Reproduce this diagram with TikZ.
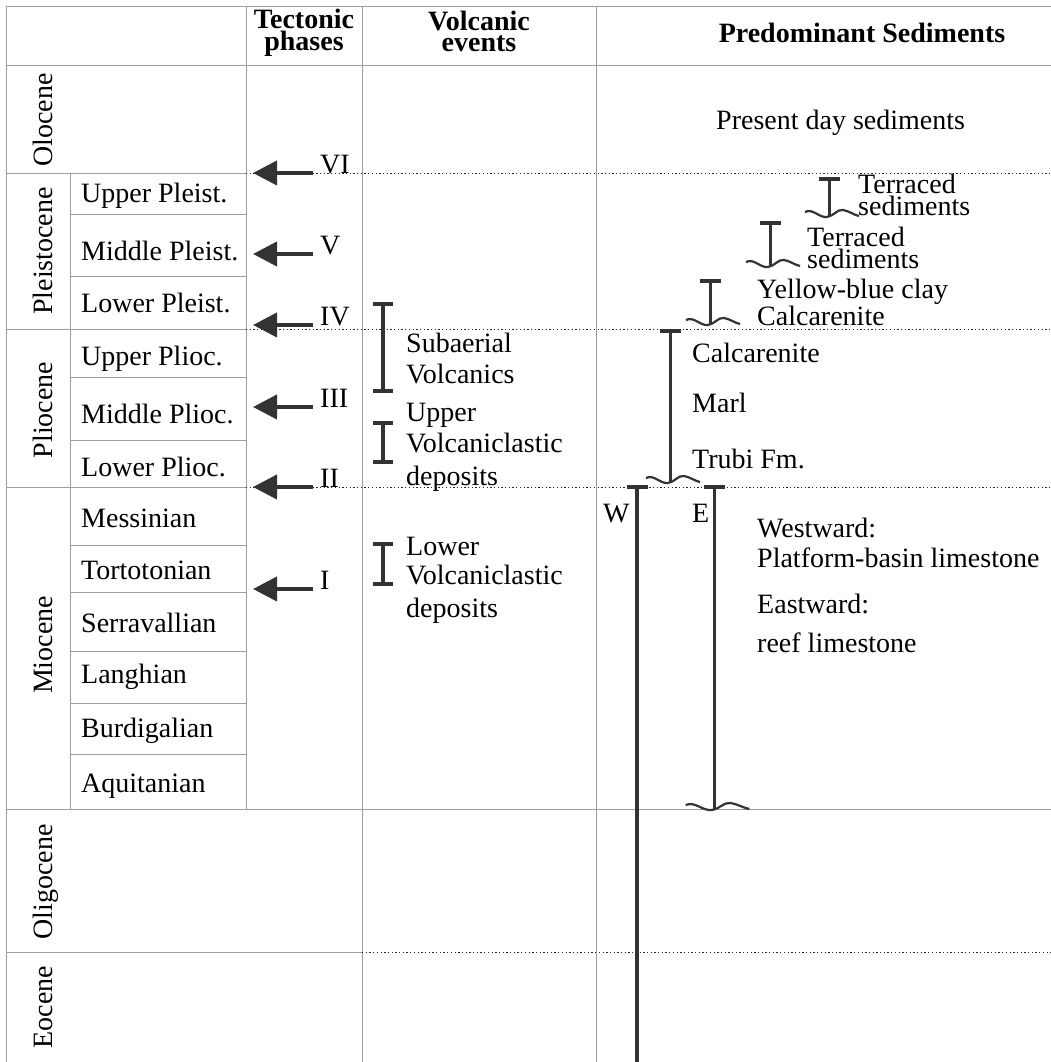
\documentclass[tikz,border=0pt]{standalone}
\usepackage{fontspec}
\setmainfont{Liberation Serif}
\usetikzlibrary{arrows.meta}
\begin{document}
\begin{tikzpicture}[x=1pt,y=-1pt,
  gridl/.style={draw=black!38,line width=0.9pt},
  dots/.style={draw=black!85,line width=1pt,dash pattern=on 1.3pt off 2.4pt},
  txt/.style={font=\fontsize{28}{30}\selectfont,inner sep=0pt,anchor=base west,text height=18pt,text depth=4pt},
  two/.style={font=\fontsize{28}{#1}\selectfont,inner sep=0pt,anchor=base west,align=left},
  head/.style={font=\bfseries\fontsize{28}{#1}\selectfont,inner sep=0pt,anchor=base,align=center},
  epoch/.style={font=\fontsize{28}{30}\selectfont,rotate=90,inner sep=0pt,anchor=base},
  tarrow/.style={draw=black!80,line width=4pt,-{Triangle[length=24pt,width=24pt]}},
  barl/.style={draw=black!80,line width=3.5pt},
  wline/.style={draw=black!80,line width=2.2pt},
  sedwave/.pic={\draw[wline] (-24,-5) .. controls (-16,-9) and (-10,1) .. (-2,0) .. controls (5,-1) and (8,-8) .. (14,-7) .. controls (20,-6) and (25,-2) .. (30,-1);}
]
\useasboundingbox (0,0) rectangle (1051,1062);
\fill[white] (0,0) rectangle (1051,1062);

% ---------- grid ----------
\draw[gridl] (6,6) -- (1051,6);
\draw[gridl] (6,65) -- (1051,65);
\draw[gridl] (6,6) -- (6,1062);
\draw[gridl] (246,6) -- (246,809);
\draw[gridl] (362,6) -- (362,1062);
\draw[gridl] (596,6) -- (596,1062);
\draw[gridl] (70,173) -- (70,809);
\foreach \y in {173,329,487} {\draw[gridl] (6,\y) -- (246,\y);}
\foreach \y in {214,276,377,440,545,592,651,703,754} {\draw[gridl] (70,\y) -- (246,\y);}
\draw[gridl] (6,809) -- (1051,809);
\draw[gridl] (6,952) -- (362,952);
\foreach \y in {173,329,487} {\draw[dots] (246,\y) -- (1051,\y);}
\draw[dots] (362,952) -- (1051,952);

% ---------- headers ----------
\node[head=22] (hT) at (304,51) {Tectonic\\phases};
\node[head=21] (hV) at (479,52) {Volcanic\\events};
\node[head=30] (hP) at (862,43) {Predominant Sediments};

% ---------- epochs ----------
\node[epoch] (eOlo) at (52,120) {Olocene};
\node[epoch] (ePle) at (52,251) {Pleistocene};
\node[epoch] (ePli) at (52,410) {Pliocene};
\node[epoch] (eMio) at (52,645) {Miocene};
\node[epoch] (eOli) at (52,882) {Oligocene};
\node[epoch] (eEoc) at (52,1007) {Eocene};

% ---------- stages ----------
\node[txt] (s1) at (81,202) {Upper Pleist.};
\node[txt] (s2) at (81,260) {Middle Pleist.};
\node[txt] (s3) at (81,312) {Lower Pleist.};
\node[txt] (s4) at (81,365) {Upper Plioc.};
\node[txt] (s5) at (81,423) {Middle Plioc.};
\node[txt] (s6) at (81,476) {Lower Plioc.};
\node[txt] (s7) at (81,527) {Messinian};
\node[txt] (s8) at (81,579) {Tortotonian};
\node[txt] (s9) at (81,632) {Serravallian};
\node[txt] (s10) at (81,683) {Langhian};
\node[txt] (s11) at (81,737) {Burdigalian};
\node[txt] (s12) at (81,792) {Aquitanian};

% ---------- tectonic phases ----------
\foreach \n/\y in {VI/173,V/254,IV/325,III/407,II/487,I/589} {
  \coordinate (t\n) at (313,\y);
  \coordinate (h\n) at (253,\y);
  \draw[tarrow] (t\n) -- (h\n);
  \node[txt] (l\n) at (320,\y) {\n};
}

% ---------- volcanic events ----------
\foreach \nm/\a/\b in {sv/304/391,uv/423/462,lv/544/584} {
  \coordinate (\nm a) at (383,\a);
  \coordinate (\nm b) at (383,\b);
  \draw[barl] (\nm a) -- (\nm b);
  \draw[barl] ([xshift=-10pt]\nm a) -- ([xshift=10pt]\nm a);
  \draw[barl] ([xshift=-10pt]\nm b) -- ([xshift=10pt]\nm b);
}
\node[txt] (v1) at (406,352) {Subaerial};
\node[txt] (v2) at (406,383) {Volcanics};
\node[txt] (v3) at (406,421) {Upper};
\node[txt] (v4) at (406,452) {Volcaniclastic};
\node[txt] (v5) at (406,485) {deposits};
\node[txt] (v6) at (406,555) {Lower};
\node[txt] (v7) at (406,584) {Volcaniclastic};
\node[txt] (v8) at (406,617) {deposits};

% ---------- sediments ----------
\node[txt] (pd) at (716,129) {Present day sediments};

\foreach \nm/\x/\a/\b/\s in {ta/829/179/217/1,tb/770/223/267/1,yc/710/281/325/1,cm/670/331/483/1,ee/714/487/810/1.18} {
  \coordinate (\nm a) at (\x,\a);
  \coordinate (\nm b) at (\x,\b);
  \draw[barl,line width=3pt] (\nm a) -- (\nm b);
  \draw[barl] ([xshift=-10.5pt]\nm a) -- ([xshift=10.5pt]\nm a);
  \pic[xscale=\s] at (\nm b) {sedwave};
}
\coordinate (wwa) at (637,487);
\coordinate (wwb) at (637,1062);
\draw[barl] (wwa) -- (wwb);
\draw[barl] ([xshift=-10.5pt]wwa) -- ([xshift=10.5pt]wwa);

\node[two=22] (ts1) at (858,215) {Terraced\\sediments};
\node[two=22] (ts2) at (807,268) {Terraced\\sediments};
\node[two=24] (yb) at (757,325) {Yellow-blue clay\\Calcarenite};
\node[txt] (cc) at (692,362) {Calcarenite};
\node[txt] (ml) at (692,412) {Marl};
\node[txt] (tb) at (692,468) {Trubi Fm.};
\node[txt] (lw) at (603,522) {W};
\node[txt] (le) at (692,522) {E};
\node[txt] (we1) at (757,537) {Westward:};
\node[txt] (we2) at (757,567) {Platform-basin limestone};
\node[txt] (ea1) at (757,613) {Eastward:};
\node[txt] (ea2) at (757,652) {reef limestone};
\end{tikzpicture}
\end{document}
